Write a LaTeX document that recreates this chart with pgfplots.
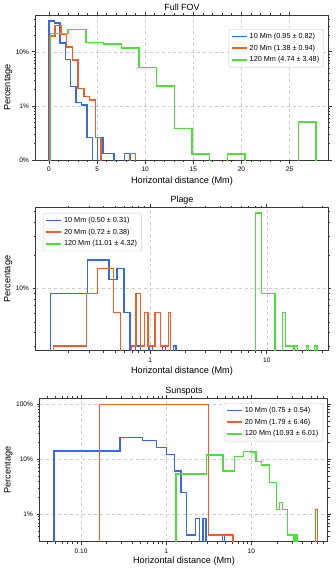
\documentclass[border=0pt]{standalone}
\usepackage{fontspec}
\setmainfont{Liberation Sans}
\usepackage{pgfplots}
\pgfplotsset{compat=1.18}
\definecolor{cblue}{RGB}{55,105,235}
\definecolor{corange}{RGB}{240,95,40}
\definecolor{cgreen}{RGB}{80,222,60}
\definecolor{cframe}{RGB}{55,55,55}
\pgfplotsset{
  every axis title shift=0pt,
  mystyle/.style={
    scale only axis,
    axis line style={cframe, line width=1bp},
    tick style={cframe, line width=0.7bp},
    tick align=outside,
    major tick length=3.5bp,
    minor tick length=2bp,
    grid=major,
    major grid style={dashed, black!20, line width=0.5bp},
    ticklabel style={font=\fontsize{6.6}{7.5}\selectfont},
    label style={font=\fontsize{9.2}{10}\selectfont},
    title style={font=\fontsize{9}{10}\selectfont, at={(axis description cs:0.5,1)}, anchor=center, yshift=7.5bp},
    legend style={font=\fontsize{7.3}{8.5}\selectfont, draw=black!20, rounded corners=2bp, fill=white, inner xsep=2.5bp, inner ysep=1.8bp, row sep=1bp},
    legend cell align=left,
    legend image code/.code={\draw[##1, line width=1.4bp] (0bp,0bp) -- (15bp,0bp);},
    xlabel={Horizontal distance (Mm)},
    ylabel={Percentage},
  },
  hist/.style={const plot mark left, line width=1.4bp, mark=none, color=#1},
}
\begin{document}
\begin{tikzpicture}
\path[use as bounding box] (0,0) rectangle (336bp,-569bp);

% ---------------- Full FOV ----------------
\begin{axis}[mystyle,
  at={(36bp,-15bp)}, anchor=north west, width=292bp, height=145bp,
  title={Full FOV},
  xmin=-1.35, xmax=29, ymode=log, ymin=0.1, ymax=48,
  xtick={0,5,10,15,20,25}, xticklabels={0,5,10,15,20,25}, minor x tick num=4,
  ytick={0.1,1,10}, yticklabels={0\%,1\%,10\%},
  minor ytick={0.2,0.3,0.4,0.5,0.6,0.7,0.8,0.9,2,3,4,5,6,7,8,9,20,30,40},
  xlabel style={at={(axis description cs:0.5,-0.145)}, anchor=center},
  ylabel style={at={(axis description cs:-0.095,0.5)}, anchor=center},
  legend style={at={(axis description cs:0.986,0.903)}, anchor=north east},
]
\addplot[hist=cblue] coordinates {(0.02,1e-4) (0.02,37) (0.58,34) (1.14,14.5) (1.70,7.3) (2.26,2.3) (2.82,1.15) (3.38,1.04) (3.94,0.26) (4.50,1e-4) (5.06,0.26) (5.62,0.133) (6.74,1e-4) (7.86,0.133) (8.42,1e-4)};
\addlegendentry{10 Mm (0.95 ± 0.82)}
\addplot[hist=corange] coordinates {(0.05,1e-4) (0.05,19.5) (0.645,31) (1.24,21) (1.835,12.2) (2.43,7.1) (3.025,2.1) (3.62,1.5) (4.215,1.29) (4.81,0.26) (5.405,1e-4) (8.38,0.133) (8.975,1e-4)};
\addlegendentry{20 Mm (1.38 ± 0.94)}
\addplot[hist=cgreen] coordinates {(0.15,1e-4) (0.15,22) (1.99,26) (3.83,14.7) (5.67,13.9) (7.51,11.7) (9.35,5.2) (11.19,2.35) (13.03,0.385) (14.87,0.129) (16.71,1e-4) (18.55,0.129) (20.39,1e-4) (25.91,0.506) (27.75,1e-4)};
\addlegendentry{120 Mm (4.74 ± 3.48)}
\end{axis}

% ---------------- Plage ----------------
\begin{axis}[mystyle,
  at={(36bp,-207.7bp)}, anchor=north west, width=292bp, height=143bp,
  title={Plage},
  xmode=log, ymode=log, xmin=0.105, xmax=33.5, ymin=2.75, ymax=54,
  xtick={1,10}, xticklabels={1,10},
  minor xtick={0.2,0.3,0.4,0.5,0.6,0.7,0.8,0.9,2,3,4,5,6,7,8,9,20,30},
  ytick={10}, yticklabels={10\%},
  minor ytick={3,4,5,6,7,8,9,20,30,40,50},
  xlabel style={at={(axis description cs:0.5,-0.14)}, anchor=center},
  ylabel style={at={(axis description cs:-0.095,0.5)}, anchor=center},
  legend style={at={(axis description cs:0.024,0.963)}, anchor=north west},
]
\addplot[hist=cblue] coordinates {(0.139,1e-4) (0.139,9.09) (0.2911,18.18) (0.4432,12.12) (0.5193,15.15) (0.5953,6.06) (0.6714,1e-4) (0.7474,3.03) (0.8235,1e-4) (0.9756,3.03) (1.0516,1e-4) (1.2798,3.03) (1.3558,1e-4) (1.5840,3.03) (1.66,1e-4)};
\addlegendentry{10 Mm (0.50 ± 0.31)}
\addplot[hist=corange] coordinates {(0.1485,1e-4) (0.1485,3.03) (0.2839,9.09) (0.3516,15.15) (0.4870,6.06) (0.5547,1e-4) (0.6901,3.03) (0.7578,9.09) (0.8255,3.03) (0.8932,6.06) (0.9609,3.03) (1.0963,6.06) (1.2317,3.03) (1.4348,6.06) (1.5025,1e-4)};
\addlegendentry{20 Mm (0.72 ± 0.38)}
\addplot[hist=cgreen] coordinates {(8.05,1e-4) (8.05,48.48) (9.0,9.09) (11.78,1e-4) (13.6,6.06) (14.55,3.03) (16.9,1e-4) (17.25,3.03) (18.3,1e-4) (21.9,3.03) (22.9,1e-4) (25.6,3.03) (27.0,1e-4)};
\addlegendentry{120 Mm (11.01 ± 4.32)}
\end{axis}

% ---------------- Sunspots ----------------
\begin{axis}[mystyle,
  at={(40bp,-398.3bp)}, anchor=north west, width=288bp, height=143.4bp,
  title={Sunspots},
  xmode=log, ymode=log, xmin=0.033, xmax=79.3, ymin=0.318, ymax=128.5,
  xtick={0.1,1,10}, xticklabels={0.10,1,10},
  minor xtick={0.04,0.05,0.06,0.07,0.08,0.09,0.2,0.3,0.4,0.5,0.6,0.7,0.8,0.9,2,3,4,5,6,7,8,9,20,30,40,50,60,70},
  ytick={1,10,100}, yticklabels={1\%,10\%,100\%},
  minor ytick={0.4,0.5,0.6,0.7,0.8,0.9,2,3,4,5,6,7,8,9,20,30,40,50,60,70,80,90},
  xlabel style={at={(axis description cs:0.5,-0.1325)}, anchor=center},
  ylabel style={at={(axis description cs:-0.110,0.5)}, anchor=center},
  legend style={at={(axis description cs:0.983,0.967)}, anchor=north east},
]
\addplot[hist=cblue] coordinates {(0.048,1e-4) (0.048,14.2) (0.288,24.8) (0.528,21.8) (0.768,16.3) (1.008,12.3) (1.249,6.1) (1.489,2.48) (1.729,0.42) (2.209,0.84) (2.449,1e-4) (2.689,0.84) (2.929,1e-4) (4.610,0.42) (4.850,1e-4)};
\addlegendentry{10 Mm (0.75 ± 0.54)}
\addplot[hist=corange] coordinates {(0.1655,1e-4) (0.1655,98) (3.1355,0.42) (6.1055,1e-4) (56.6,1.23) (59.57,1e-4)};
\addlegendentry{20 Mm (1.79 ± 6.46)}
\addplot[hist=cgreen] coordinates {(1.30,1e-4) (1.30,5.4) (2.98,12.0) (4.66,6.1) (6.34,11.2) (8.02,13.8) (9.70,13.5) (11.38,9.1) (13.06,7.9) (16.42,3.8) (19.78,1.23) (21.46,1.65) (23.14,1.23) (26.50,0.42) (31.54,1e-4) (33.22,0.42) (34.90,1e-4)};
\addlegendentry{120 Mm (10.93 ± 6.01)}
\end{axis}
\end{tikzpicture}
\end{document}
